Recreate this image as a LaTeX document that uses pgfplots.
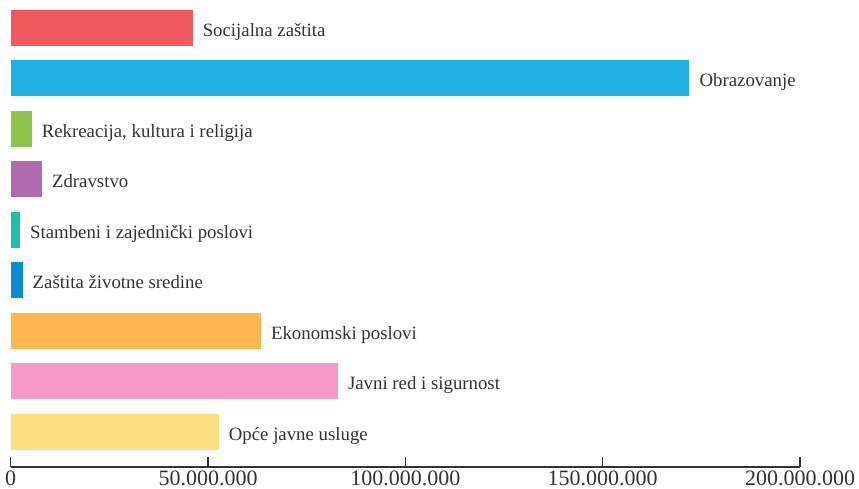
\documentclass[border=0pt]{standalone}
\usepackage{fontspec}
\setmainfont{Liberation Serif}
\usepackage{pgfplots}
\pgfplotsset{compat=1.18}
\definecolor{c1}{HTML}{F0595D}
\definecolor{c2}{HTML}{20B0E3}
\definecolor{c3}{HTML}{8DC74A}
\definecolor{c4}{HTML}{B06CAF}
\definecolor{c5}{HTML}{20BFAA}
\definecolor{c6}{HTML}{0A8DD4}
\definecolor{c7}{HTML}{FDB84F}
\definecolor{c8}{HTML}{F49AC4}
\definecolor{c9}{HTML}{FEDF80}
\definecolor{txt}{HTML}{333333}
\begin{document}
\begin{tikzpicture}
\begin{axis}[
  scale only axis, width=789.3pt, height=467pt,
  xmin=0, xmax=200000000, ymin=-0.693, ymax=8.554,
  axis x line*=bottom, axis y line=none,
  xbar, bar width=36pt, bar shift=0pt,
  xtick={0,50000000,100000000,150000000,200000000},
  ytick=\empty,
  scaled x ticks=false,
  /pgf/number format/fixed,
  /pgf/number format/precision=0,
  /pgf/number format/1000 sep={.},
  /pgf/number format/assume math mode=true,
  xticklabel style={font=\fontsize{22}{26}\selectfont, text=txt},
  tick align=inside, major tick length=10pt,
  tick style={line width=1.5pt, color=txt},
  axis line style={line width=1.5pt, color=txt},
  clip=false,
  every node near coord/.style={anchor=base west, inner sep=0pt, xshift=10pt, yshift=-8.5pt, font=\fontsize{18.8}{22}\selectfont, text=txt},
]
\addplot[fill=c1, draw=none, nodes near coords={Socijalna zaštita}] coordinates {(46080000,8)};
\addplot[fill=c2, draw=none, nodes near coords={Obrazovanje}] coordinates {(171970000,7)};
\addplot[fill=c3, draw=none, nodes near coords={Rekreacija, kultura i religija}] coordinates {(5300000,6)};
\addplot[fill=c4, draw=none, nodes near coords={Zdravstvo}] coordinates {(7900000,5)};
\addplot[fill=c5, draw=none, nodes near coords={Stambeni i zajednički poslovi}] coordinates {(2350000,4)};
\addplot[fill=c6, draw=none, nodes near coords={Zaštita životne sredine}] coordinates {(3000000,3)};
\addplot[fill=c7, draw=none, nodes near coords={Ekonomski poslovi}] coordinates {(63400000,2)};
\addplot[fill=c8, draw=none, nodes near coords={Javni red i sigurnost}] coordinates {(82900000,1)};
\addplot[fill=c9, draw=none, nodes near coords={Opće javne usluge}] coordinates {(52700000,0)};
\end{axis}
\pgfresetboundingbox
\path[use as bounding box] (-10.7pt,-22pt) rectangle (848.3pt,467pt);
\end{tikzpicture}
\end{document}
